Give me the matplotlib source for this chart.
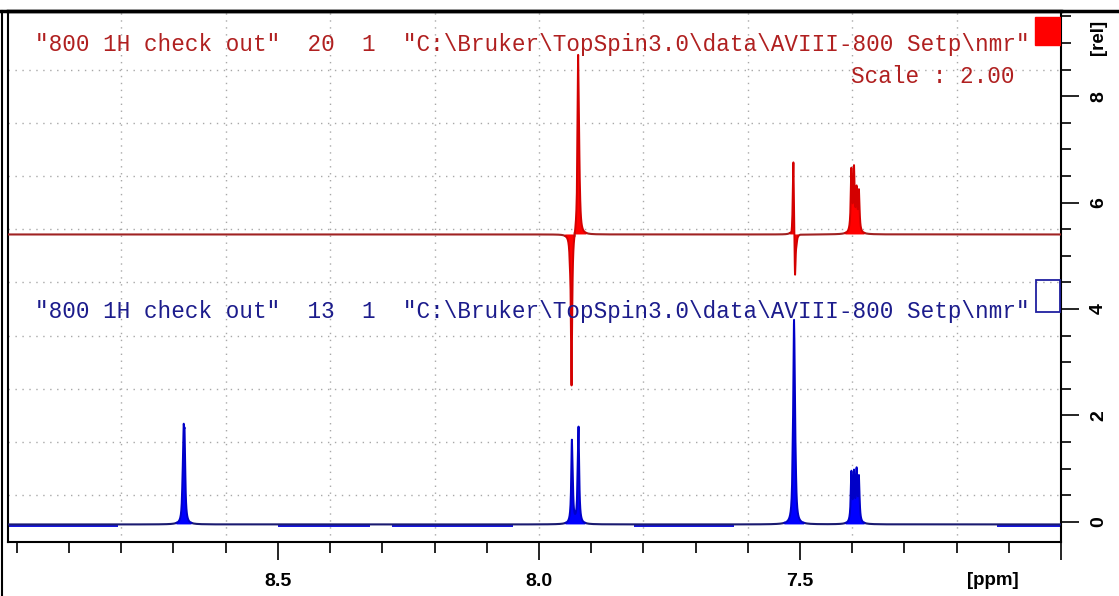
import numpy as np
import matplotlib.pyplot as plt
from matplotlib.lines import Line2D
from matplotlib.patches import Rectangle
from matplotlib.ticker import FixedLocator, MultipleLocator

plt.rcParams['font.family'] = ['Liberation Sans', 'DejaVu Sans']

# Spectral window
ppm_left, ppm_right = 9.017, 7.0
rel_low, rel_high = -0.38, 9.6

# Upper (red) trace, scale 2.00: line positions [ppm] and signed heights [rel]
red_offset = 5.4
red_ppm = [7.9405, 7.9375, 7.9250, 7.9235, 7.9215,
           7.5160, 7.5125, 7.5095, 7.5065,
           7.4015, 7.3965, 7.3915, 7.3870]
red_amp = [-0.20, -2.85, 2.80, 1.20, 0.15,
           -0.10, 1.55, -1.00, -0.10,
           1.15, 1.15, 0.75, 0.75]

# Lower (blue) trace
blue_offset = -0.05
blue_ppm = [8.6825, 8.6805, 8.6785,
            7.9370, 7.9355, 7.9255, 7.9240,
            7.5135, 7.5115, 7.5100, 7.5080,
            7.4015, 7.3965, 7.3915, 7.3870]
blue_amp = [0.45, 1.30, 1.30,
            1.35, 0.45, 0.45, 1.60,
            0.70, 2.90, 1.40, 0.30,
            0.92, 0.88, 0.92, 0.82]

# ppm stretches where the lower trace shows baseline noise
noise_start = [9.017, 8.500, 8.281, 7.818, 7.122]
noise_end = [8.806, 8.323, 8.050, 7.627, 7.000]

red_title = '"800 1H check out"  20  1  "C:\\Bruker\\TopSpin3.0\\data\\AVIII-800 Setp\\nmr"'
blue_title = '"800 1H check out"  13  1  "C:\\Bruker\\TopSpin3.0\\data\\AVIII-800 Setp\\nmr"'
scale_text = 'Scale : 2.00'


def trace(ppm_axis, positions, heights, hw=0.0014):
    """Sum of Lorentzian lines at the given positions."""
    y = np.zeros_like(ppm_axis)
    for p, h in zip(positions, heights):
        y += h / (1.0 + ((ppm_axis - p) / hw) ** 2)
    return y


def draw_trace(ax, x, y, base, peak_col, base_col, fill_col):
    on_peak = np.abs(y - base) > 0.03
    ax.fill_between(x, base, y, where=on_peak, color=fill_col, lw=0, zorder=2)
    ax.plot(x, np.where(on_peak, np.nan, y), color=base_col, lw=1.5, zorder=3)
    wide = np.convolve(on_peak, np.ones(5), mode='same') > 0
    ax.plot(x, np.where(wide, y, np.nan), color=peak_col, lw=1.4, zorder=3)


x = np.linspace(ppm_right, ppm_left, 40000)
red_y = red_offset + trace(x, red_ppm, red_amp)
blue_y = blue_offset + trace(x, blue_ppm, blue_amp)

fig = plt.figure(figsize=(11.19, 5.96), dpi=100)
ax = fig.add_axes([8 / 1119, 54 / 596, 1053 / 1119, 531 / 596])

# dotted grid
for g in np.arange(7.2, 8.81, 0.2):
    ax.axvline(g, color='#a8a8a8', lw=1.0, ls=(0, (1, 4)), zorder=0)
for g in np.arange(0.5, 9.0, 1.0):
    ax.axhline(g, color='#a8a8a8', lw=1.0, ls=(0, (1, 4)), zorder=0)

# red trace
draw_trace(ax, x, red_y, red_offset, '#d40000', '#a02222', '#ff0000')

# blue trace with noisy baseline stretches
for a, b in zip(noise_start, noise_end):
    ax.fill_between([b, a], blue_offset - 0.05, blue_offset + 0.005,
                    color='#1818e0', lw=0, zorder=2)
draw_trace(ax, x, blue_y, blue_offset, '#0000c8', '#1a1a70', '#0000ff')

ax.set_xlim(ppm_left, ppm_right)
ax.set_ylim(rel_low, rel_high)

# x axis
ax.xaxis.set_major_locator(FixedLocator([8.5, 8.0, 7.5, 7.0]))
ax.set_xticklabels(['8.5', '8.0', '7.5', ''])
ax.xaxis.set_minor_locator(MultipleLocator(0.1))
ax.tick_params(axis='x', which='major', length=13, width=1.2, direction='out',
               pad=9, labelsize=14)
ax.tick_params(axis='x', which='minor', length=8, width=1.2, direction='out')
for lab in ax.get_xticklabels():
    lab.set_fontweight('bold')

# y axis on the right, rotated labels
ax.yaxis.tick_right()
ax.yaxis.set_major_locator(MultipleLocator(2))
ax.yaxis.set_minor_locator(MultipleLocator(0.5))
ax.tick_params(axis='y', which='major', length=13, width=1.2, direction='out',
               pad=8, labelsize=14, labelrotation=90)
ax.tick_params(axis='y', which='minor', length=7, width=1.2, direction='out')
for lab in ax.get_yticklabels():
    lab.set_fontweight('bold')
    lab.set_verticalalignment('center')

for side in ['left', 'bottom', 'right']:
    ax.spines[side].set_linewidth(1.5)
ax.spines['top'].set_linewidth(2.5)

ax.text(0.935, -0.072, '[ppm]', transform=ax.transAxes, ha='center', va='center',
        fontsize=13.5, fontweight='bold')
ax.text(1.036, 0.95, '[rel]', transform=ax.transAxes, ha='center', va='center',
        fontsize=13.5, fontweight='bold', rotation=90, clip_on=False)

# trace titles
mono = ['Liberation Mono', 'DejaVu Sans Mono']
ax.text(0.9706, 0.936, red_title, transform=ax.transAxes, ha='right', va='center',
        fontsize=16.3, family=mono, color='#b02020')
ax.text(0.9563, 0.876, scale_text, transform=ax.transAxes, ha='right', va='center',
        fontsize=16.3, family=mono, color='#b02020')
ax.text(0.9706, 0.435, blue_title, transform=ax.transAxes, ha='right', va='center',
        fontsize=16.3, family=mono, color='#1c1c8c')

# trace markers in the right corner
ax.add_patch(Rectangle((0.975, 0.936), 0.025, 0.053, transform=ax.transAxes,
                       facecolor='#ff0000', edgecolor='#ff0000', zorder=5))
ax.add_patch(Rectangle((0.976, 0.433), 0.023, 0.06, transform=ax.transAxes,
                       facecolor='none', edgecolor='#2020a0', lw=1.3, zorder=5))

# outer frame lines of the window
fig.add_artist(Line2D([0, 1], [585 / 596, 585 / 596], color='black', lw=2.5))
fig.add_artist(Line2D([2 / 1119, 2 / 1119], [0, 585 / 596], color='black', lw=1.5))

fig.savefig('out.png', dpi=100)
